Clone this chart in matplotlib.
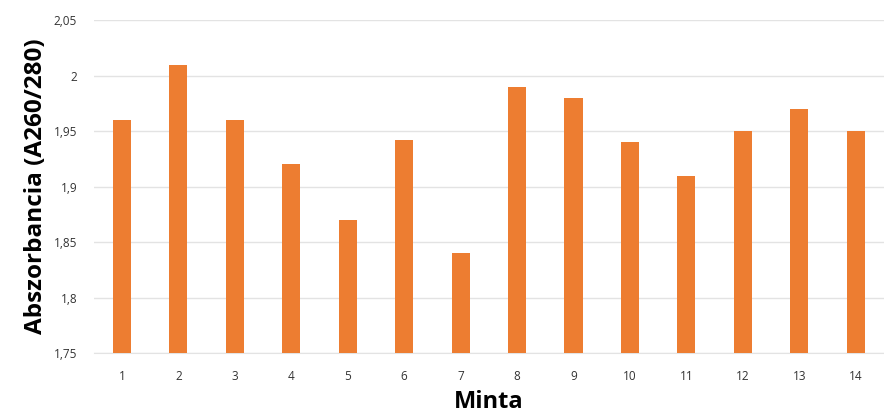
import matplotlib
matplotlib.use("Agg")
import matplotlib.pyplot as plt

# sample ids and their A260/280 ratios
samples = [str(i) for i in range(1, 15)]
ratios = [1.96, 2.01, 1.96, 1.92, 1.87, 1.942, 1.84, 1.99, 1.98, 1.94, 1.91, 1.95, 1.97, 1.95]

y_ticks = [1.75, 1.80, 1.85, 1.90, 1.95, 2.00, 2.05]
y_tick_labels = ["1,75", "1,8", "1,85", "1,9", "1,95", "2", "2,05"]

plt.rcParams['font.family'] = ['Open Sans', 'DejaVu Sans']

fig = plt.figure(figsize=(8.84, 4.12), dpi=100)
ax = fig.add_axes([0.106, 0.143, 0.894, 0.808])

x = list(range(1, len(samples) + 1))
ax.bar(x, ratios, width=0.32, color='#ED7D31', zorder=3)

ax.set_xlim(0.5, len(samples) + 0.5)
ax.set_ylim(1.75, 2.05)
ax.set_yticks(y_ticks)
ax.set_yticklabels(y_tick_labels)
ax.set_xticks(x)
ax.set_xticklabels(samples)

ax.grid(axis='y', color='#E3E3E3', linewidth=1.0, zorder=0)
for side in ['left', 'right', 'top']:
    ax.spines[side].set_visible(False)
ax.spines['bottom'].set_color('#E3E3E3')

ax.tick_params(axis='both', length=0, labelsize=8.5, labelcolor='#333333')
ax.tick_params(axis='x', pad=12)
ax.tick_params(axis='y', pad=12)

ax.set_ylabel('Abszorbancia (A260/280)', fontsize=17.5, fontweight='bold', labelpad=4)
ax.set_xlabel('Minta', fontsize=17, fontweight='bold', labelpad=5)

fig.savefig("out.png", dpi=100)
